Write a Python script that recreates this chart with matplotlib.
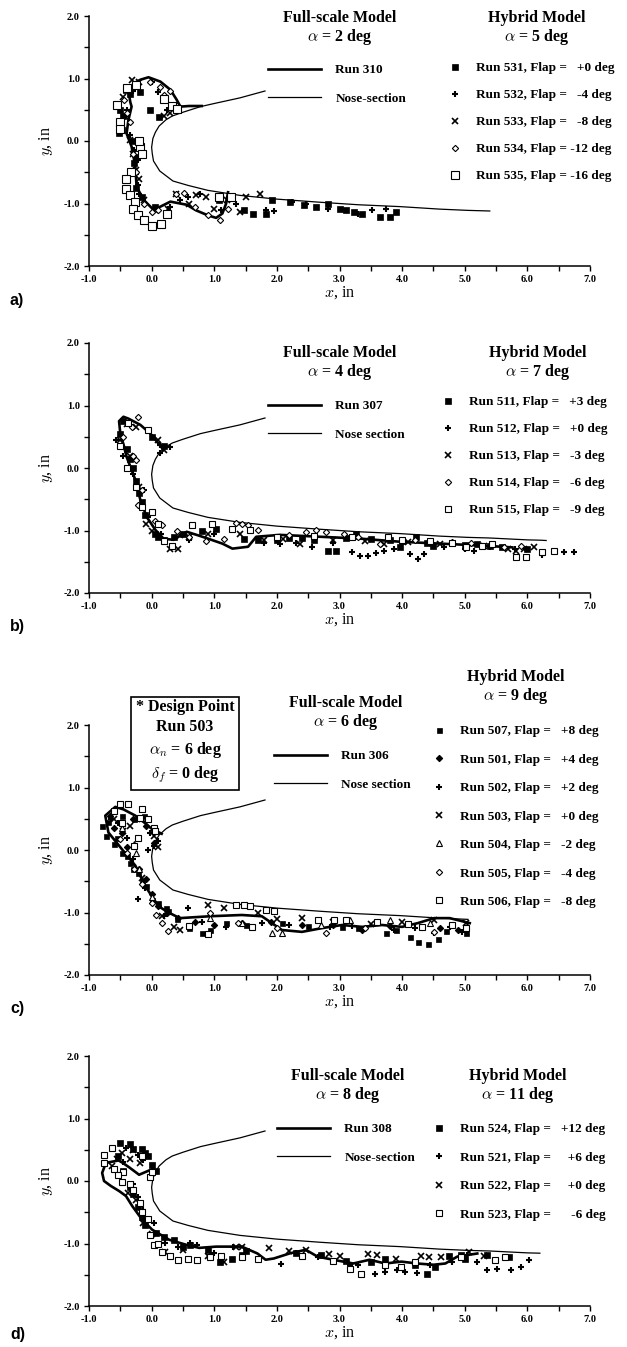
import matplotlib
matplotlib.use('Agg')
import matplotlib.pyplot as plt
from matplotlib.ticker import MultipleLocator, FormatStrFormatter
import numpy as np

plt.rcParams['font.family'] = ['Liberation Serif', 'DejaVu Serif']
plt.rcParams['font.weight'] = 'bold'
plt.rcParams['mathtext.fontset'] = 'cm'

# nose section outline (same in every panel), upper tail -> nose -> lower tail
nose = [(1.81, 0.80), (1.41, 0.69), (1.00, 0.60), (0.78, 0.55), (0.50, 0.46),
        (0.33, 0.40), (0.23, 0.34), (0.12, 0.24), (0.06, 0.14), (0.02, 0.04),
        (0.00, -0.10), (0.01, -0.20), (0.03, -0.32), (0.13, -0.48), (0.34, -0.64),
        (0.58, -0.71), (0.90, -0.79), (1.41, -0.87), (2.00, -0.93), (2.69, -0.98),
        (3.30, -1.02), (3.97, -1.05), (4.60, -1.09), (5.05, -1.11), (5.40, -1.12),
        (6.00, -1.15), (6.20, -1.155), (6.30, -1.16)]
nose_end = [5.40, 6.30, 5.05, 6.20]

# ---- panel a : full-scale alpha = 2, hybrid alpha = 5
a_run = [(0.80, 0.56), (0.60, 0.56), (0.46, 0.55), (0.40, 0.66), (0.30, 0.82), (0.14, 0.95),
         (-0.05, 1.02), (-0.18, 0.98), (-0.29, 0.92), (-0.37, 0.79), (-0.34, 0.62), (-0.32, 0.55),
         (-0.37, 0.34), (-0.40, 0.12), (-0.32, -0.09), (-0.26, -0.41), (-0.24, -0.73), (-0.13, -0.94),
         (0.03, -1.10), (0.14, -1.05), (0.30, -0.97), (0.56, -1.02), (0.71, -1.11), (0.90, -1.19),
         (1.03, -1.23), (1.13, -1.16), (1.19, -1.00), (1.22, -0.82)]
a531 = [(-0.50, 0.49), (-0.47, 0.17), (-0.41, 0.82), (-0.18, 0.79), (-0.02, 0.49), (0.12, 0.38),
        (-0.23, -0.25), (-0.52, 0.13), (-0.30, -0.50), (-0.25, -0.75), (-0.35, 0.75), (-0.45, 0.40),
        (-0.30, 0.00), (-0.28, -0.35), (-0.15, -0.90), (0.05, -1.05), (1.08, -0.95), (1.48, -1.11),
        (1.62, -1.16), (1.83, -1.16), (1.92, -0.95), (2.21, -0.98), (2.44, -1.03), (2.63, -1.06),
        (2.82, -1.00), (3.01, -1.08), (3.11, -1.11), (3.23, -1.14), (3.36, -1.16), (3.65, -1.21),
        (3.81, -1.21), (3.90, -1.13)]
a532 = [(-0.37, 0.87), (0.01, 0.95), (0.10, 0.79), (0.20, 0.65), (0.25, 0.49), (-0.28, -0.15),
        (-0.21, -0.31), (-0.25, -0.52), (-0.22, -0.70), (-0.30, 0.80), (-0.40, 0.50), (-0.35, 0.10),
        (-0.20, -0.85), (0.30, -1.05), (0.45, -0.95), (1.10, -1.10), (0.58, -0.90), (0.78, -0.84),
        (1.35, -1.00), (1.83, -1.11), (1.96, -1.12), (2.24, -0.98), (2.47, -1.00), (2.82, -1.09),
        (3.30, -1.16), (3.52, -1.11), (3.74, -1.08)]
a533 = [(-0.31, 0.97), (-0.41, 0.38), (-0.34, 0.01), (-0.25, -0.47), (-0.12, -0.95), (0.26, -1.08),
        (-0.20, 0.95), (-0.45, 0.70), (-0.30, -0.20), (-0.20, -0.60), (0.05, -1.10), (0.60, -1.00),
        (1.20, -0.95), (0.39, -0.84), (0.71, -0.87), (0.87, -0.90), (0.99, -1.08), (1.41, -1.14),
        (1.51, -0.90), (1.73, -0.84), (0.20, 0.40), (0.30, 0.45)]
a534 = [(-0.44, 0.65), (-0.02, 0.95), (0.14, 0.87), (0.20, 0.73), (0.39, 0.57), (-0.12, -1.00),
        (0.01, -1.14), (0.39, -0.84), (0.52, -0.83), (0.90, -1.19), (1.09, -1.26), (1.22, -1.08),
        (-0.35, 0.30), (-0.30, -0.20), (-0.40, 0.45), (-0.25, -0.50), (0.10, -1.10), (0.70, -1.05),
        (0.30, 0.80)]
a535 = [(-0.55, 0.58), (-0.51, 0.31), (-0.50, 0.20), (-0.40, 0.85), (-0.18, -0.09), (-0.16, -0.20),
        (-0.33, -0.49), (-0.41, -0.60), (-0.41, -0.76), (-0.35, -0.86), (-0.26, -0.97), (-0.29, -1.09),
        (-0.21, -1.18), (-0.12, -1.27), (0.01, -1.36), (0.15, -1.32), (0.24, -1.17), (0.33, 0.56),
        (0.19, 0.68), (0.40, 0.51), (1.08, -0.90), (1.27, -0.90), (-0.20, 0.00), (-0.25, 0.90)]
a_labels = ['Run 531, Flap =   +0 deg', 'Run 532, Flap =   -4 deg', 'Run 533, Flap =   -8 deg',
            'Run 534, Flap = -12 deg', 'Run 535, Flap = -16 deg']

# ---- panel b : full-scale alpha = 4, hybrid alpha = 7
b_run = [(0.19, 0.29), (0.11, 0.39), (-0.02, 0.55), (-0.18, 0.69), (-0.37, 0.79), (-0.45, 0.82),
         (-0.52, 0.75), (-0.50, 0.55), (-0.45, 0.38), (-0.40, 0.18), (-0.26, -0.19), (-0.18, -0.51),
         (-0.08, -0.78), (0.06, -0.99), (0.19, -1.13), (0.35, -1.15), (0.56, -1.02), (0.75, -1.08),
         (0.90, -1.13), (1.13, -1.21), (1.29, -1.29), (1.54, -1.26), (1.67, -1.10), (2.05, -1.07),
         (2.69, -1.10), (3.33, -1.13), (3.97, -1.18), (4.61, -1.21), (5.25, -1.24), (5.76, -1.27)]
b511 = [(-0.45, 0.75), (-0.50, 0.55), (-0.40, 0.30), (-0.30, 0.00), (-0.20, -0.40), (-0.10, -0.75),
        (0.05, -1.05), (0.20, -1.15), (0.00, 0.50), (0.20, 0.35), (-0.35, 0.15), (-0.25, -0.20),
        (-0.15, -0.55), (0.10, -1.10), (0.35, -1.10), (0.50, -1.05), (0.80, -1.00), (1.03, -0.98),
        (1.48, -1.13), (1.70, -1.15), (2.00, -1.15), (2.20, -1.12), (2.40, -1.12), (2.60, -1.15),
        (2.82, -1.32), (2.95, -1.32), (3.10, -1.12), (3.27, -1.05), (3.50, -1.14), (3.80, -1.15),
        (3.97, -1.26), (4.00, -1.17), (4.22, -1.10), (4.40, -1.20), (4.50, -1.25), (4.80, -1.20),
        (5.00, -1.23), (5.20, -1.22), (5.40, -1.25), (5.60, -1.27), (6.00, -1.30)]
b512 = [(-0.57, 0.45), (0.14, 0.37), (0.30, 0.34), (0.14, 0.24), (-0.12, -0.35), (-0.05, -0.78),
        (-0.45, 0.20), (-0.30, -0.10), (0.15, -1.05), (0.60, -1.15), (1.00, -1.05), (1.80, -1.20),
        (2.05, -1.21), (2.30, -1.20), (2.56, -1.26), (2.90, -1.20), (3.20, -1.34), (3.33, -1.41),
        (3.46, -1.41), (3.59, -1.36), (3.71, -1.32), (3.87, -1.29), (4.13, -1.38), (4.26, -1.45),
        (4.35, -1.37), (4.67, -1.26), (5.00, -1.29), (5.15, -1.32), (5.40, -1.27), (5.80, -1.30),
        (6.24, -1.39), (6.43, -1.34), (6.59, -1.34), (6.75, -1.34)]
b513 = [(-0.50, 0.45), (-0.25, 0.66), (0.10, 0.45), (0.20, 0.29), (-0.09, -0.89), (0.30, -1.29),
        (-0.40, 0.70), (-0.35, 0.20), (-0.20, -0.30), (0.00, -1.00), (0.60, -1.10), (0.90, -1.05),
        (0.42, -1.29), (0.46, -1.07), (1.41, -1.05), (1.80, -1.15), (2.10, -1.13), (2.37, -1.21),
        (2.90, -1.15), (3.40, -1.16), (3.71, -1.21), (4.10, -1.19), (4.60, -1.22), (5.30, -1.25),
        (5.69, -1.29), (5.82, -1.32), (5.95, -1.29), (6.11, -1.26)]
b514 = [(-0.21, 0.81), (-0.31, 0.66), (-0.25, 0.13), (-0.21, -0.59), (0.17, -0.91), (0.87, -1.16),
        (-0.45, 0.50), (-0.30, 0.20), (-0.15, -0.35), (0.05, -0.85), (0.40, -1.00), (0.60, -1.10),
        (1.16, -1.13), (1.35, -0.88), (1.45, -0.89), (1.54, -0.91), (1.70, -0.99), (2.20, -1.07),
        (2.47, -1.02), (2.63, -0.99), (2.79, -1.02), (3.07, -1.05), (3.30, -1.10), (3.65, -1.21),
        (4.20, -1.15), (4.80, -1.18), (5.10, -1.20), (5.63, -1.26), (5.90, -1.25)]
b515 = [(-0.37, 0.72), (-0.05, 0.61), (-0.15, -0.62), (0.01, -0.70), (0.20, -1.16), (0.33, -1.24),
        (-0.50, 0.35), (-0.40, 0.00), (-0.25, -0.30), (0.10, -0.90), (0.65, -0.91), (0.97, -0.89),
        (1.29, -0.97), (1.57, -0.99), (2.00, -1.10), (2.60, -1.08), (3.20, -1.10), (3.78, -1.10),
        (4.00, -1.15), (4.45, -1.16), (4.80, -1.20), (5.02, -1.26), (5.28, -1.24), (5.44, -1.21),
        (5.82, -1.42), (5.98, -1.42), (6.24, -1.34), (6.43, -1.32)]
b_labels = ['Run 511, Flap =   +3 deg', 'Run 512, Flap =   +0 deg', 'Run 513, Flap =   -3 deg',
            'Run 514, Flap =   -6 deg', 'Run 515, Flap =   -9 deg']

# ---- panel c : full-scale alpha = 6, hybrid alpha = 9
c_run = [(0.16, 0.26), (0.00, 0.34), (-0.13, 0.45), (-0.26, 0.55), (-0.45, 0.65), (-0.58, 0.69),
         (-0.74, 0.55), (-0.69, 0.28), (-0.48, 0.02), (-0.26, -0.25), (-0.10, -0.58), (0.11, -0.90),
         (0.27, -1.00), (0.45, -1.09), (0.93, -1.06), (1.44, -1.04), (1.76, -1.06), (2.08, -1.28),
         (2.40, -1.31), (2.72, -1.25), (3.04, -1.20), (3.36, -1.23), (3.68, -1.20), (4.00, -1.23),
         (4.25, -1.17), (4.51, -1.09), (4.76, -1.09), (5.08, -1.17)]
c507 = [(-0.80, 0.39), (-0.73, 0.23), (-0.60, 0.09), (-0.48, -0.04), (-0.35, -0.20), (-0.22, -0.37),
        (-0.09, -0.58), (0.00, -0.80), (0.23, -0.93), (0.26, -0.98), (-0.70, 0.45), (-0.55, 0.20),
        (-0.40, -0.10), (-0.30, -0.30), (-0.15, -0.50), (0.10, -0.85), (0.40, -1.10), (0.60, -1.25),
        (0.80, -1.33), (0.93, -1.28), (1.19, -1.17), (1.50, -1.20), (2.08, -1.17), (2.50, -1.22),
        (3.04, -1.23), (3.30, -1.25), (3.74, -1.33), (3.90, -1.28), (4.12, -1.39), (4.25, -1.47),
        (4.41, -1.51), (4.57, -1.43), (4.70, -1.30), (5.02, -1.33), (-0.48, 0.55), (-0.28, 0.49),
        (-0.12, 0.55)]
c501 = [(-0.67, 0.55), (-0.48, 0.28), (-0.28, 0.06), (-0.09, -0.47), (0.10, -0.90), (0.42, -1.09),
        (-0.60, 0.35), (-0.40, 0.05), (-0.20, -0.30), (0.00, -0.70), (0.25, -1.00), (0.70, -1.15),
        (1.00, -1.20), (1.44, -1.17), (1.90, -1.15), (2.40, -1.20), (2.90, -1.20), (3.36, -1.28),
        (3.80, -1.22), (4.32, -1.23), (4.60, -1.25), (4.89, -1.28), (0.04, 0.12), (-0.09, 0.39),
        (-0.30, 0.50)]
c502 = [(0.58, -0.93), (0.04, 0.06), (-0.03, 0.28), (-0.22, -0.79), (-0.65, 0.50), (-0.40, 0.20),
        (-0.30, -0.15), (-0.10, -0.60), (0.20, -1.05), (0.80, -1.15), (1.19, -1.23), (1.76, -1.17),
        (2.20, -1.20), (2.85, -1.23), (3.20, -1.22), (3.87, -1.28), (4.20, -1.25), (4.51, -1.33),
        (4.76, -1.23), (4.96, -1.31), (-0.54, 0.44), (0.10, 0.15), (-0.05, 0.00)]
c503 = [(0.90, -0.88), (1.15, -0.93), (0.45, -1.28), (0.35, -1.23), (1.70, -1.01), (2.00, -1.10),
        (2.40, -1.09), (2.90, -1.15), (3.50, -1.18), (4.00, -1.15), (4.51, -1.12), (0.04, 0.23),
        (-0.35, 0.39), (-0.16, 0.49), (-0.60, 0.50), (-0.45, 0.30), (0.10, 0.05), (-0.15, -0.45),
        (0.16, -1.06), (5.02, -1.17)]
c504 = [(-0.48, 0.36), (-0.25, -0.04), (-0.28, 0.09), (-0.20, -0.30), (0.00, -0.75), (0.93, -1.09),
        (1.44, -1.17), (1.92, -1.32), (2.08, -1.32), (2.70, -1.20), (3.17, -1.12), (3.81, -1.12),
        (4.44, -1.17)]
c505 = [(0.07, -1.04), (0.16, -1.17), (0.26, -1.29), (0.93, -1.01), (1.38, -1.17), (2.00, -1.25),
        (2.78, -1.32), (3.40, -1.25), (4.51, -1.31), (-0.28, -0.31), (-0.51, 0.17), (-0.40, -0.05),
        (-0.15, -0.55), (0.00, -0.85)]
c506 = [(-0.51, 0.74), (-0.38, 0.74), (-0.16, 0.66), (-0.19, 0.52), (0.04, 0.36), (-0.48, 0.44),
        (-0.22, 0.20), (-0.28, 0.06), (-0.60, 0.62), (-0.05, 0.50), (0.05, 0.30), (0.60, -1.22),
        (0.90, -1.34), (1.35, -0.88), (1.48, -0.88), (1.57, -0.90), (1.82, -0.96), (1.95, -0.98),
        (2.66, -1.12), (2.91, -1.12), (3.10, -1.12), (3.60, -1.15), (4.10, -1.18), (4.32, -1.23),
        (4.80, -1.20), (5.02, -1.25), (1.60, -1.23)]
c_labels = ['Run 507, Flap =   +8 deg', 'Run 501, Flap =   +4 deg', 'Run 502, Flap =   +2 deg',
            'Run 503, Flap =   +0 deg', 'Run 504, Flap =   -2 deg', 'Run 505, Flap =   -4 deg',
            'Run 506, Flap =   -8 deg']

# ---- panel d : full-scale alpha = 8, hybrid alpha = 11
d_run = [(0.01, 0.19), (-0.20, 0.10), (-0.36, 0.22), (-0.52, 0.33), (-0.73, 0.29), (-0.79, 0.13),
         (-0.76, 0.00), (-0.65, -0.08), (-0.52, -0.16), (-0.41, -0.24), (-0.31, -0.40), (-0.15, -0.62),
         (0.01, -0.78), (0.28, -0.94), (0.55, -1.02), (0.76, -1.07), (1.03, -1.05), (1.44, -1.05),
         (1.69, -1.16), (1.82, -1.26), (1.95, -1.24), (2.20, -1.16), (2.46, -1.10), (2.65, -1.21),
         (2.90, -1.26), (3.22, -1.32), (3.48, -1.26), (3.73, -1.32), (3.99, -1.29), (4.24, -1.32),
         (4.50, -1.34), (4.69, -1.32), (4.88, -1.21), (5.07, -1.18), (5.20, -1.16)]
d524 = [(-0.51, 0.61), (-0.35, 0.60), (-0.16, 0.51), (-0.06, 0.40), (0.00, 0.26), (0.07, 0.16),
        (-0.30, 0.52), (-0.10, 0.45), (-0.54, 0.40), (-0.45, 0.16), (-0.35, -0.09), (-0.30, -0.20),
        (-0.22, -0.41), (-0.16, -0.57), (-0.10, -0.70), (0.07, -0.83), (0.20, -0.90), (0.35, -0.94),
        (0.50, -1.05), (0.61, -1.02), (0.90, -1.10), (1.09, -1.29), (1.28, -1.24), (1.44, -1.18),
        (1.50, -1.12), (2.30, -1.15), (2.71, -1.18), (3.10, -1.28), (3.50, -1.30), (3.73, -1.24),
        (4.20, -1.35), (4.40, -1.48), (4.53, -1.37), (4.75, -1.20), (4.94, -1.18), (5.00, -1.25),
        (5.36, -1.18), (5.71, -1.21)]
d521 = [(-0.41, 0.53), (-0.22, 0.42), (-0.13, 0.34), (-0.45, 0.30), (-0.30, -0.05), (-0.22, -0.25),
        (-0.13, -0.46), (-0.05, -0.60), (0.03, -0.67), (0.22, -0.99), (0.42, -1.05), (0.61, -0.99),
        (0.73, -1.02), (1.00, -1.15), (1.30, -1.05), (2.07, -1.32), (2.30, -1.15), (2.65, -1.21),
        (2.90, -1.30), (3.16, -1.34), (3.30, -1.35), (3.57, -1.48), (3.73, -1.45), (3.92, -1.42),
        (4.05, -1.45), (4.24, -1.47), (4.45, -1.35), (4.80, -1.30), (5.04, -1.18), (5.20, -1.29),
        (5.36, -1.42), (5.52, -1.40), (5.74, -1.42), (5.90, -1.37), (6.03, -1.26)]
d522 = [(-0.64, 0.24), (-0.48, 0.45), (-0.29, 0.50), (-0.19, 0.29), (-0.55, 0.35), (-0.35, 0.35),
        (-0.38, -0.19), (-0.25, -0.30), (-0.13, -0.67), (0.00, -0.85), (0.22, -1.13), (0.50, -1.10),
        (0.90, -1.20), (1.15, -1.29), (1.35, -1.05), (1.44, -1.05), (1.88, -1.07), (2.20, -1.12),
        (2.46, -1.10), (2.84, -1.16), (3.00, -1.20), (3.45, -1.16), (3.60, -1.18), (3.90, -1.25),
        (4.30, -1.20), (4.43, -1.21), (4.62, -1.21), (5.07, -1.14), (5.30, -1.20)]
d523 = [(-0.76, 0.42), (-0.64, 0.53), (-0.76, 0.29), (-0.60, 0.20), (-0.45, 0.15), (-0.54, 0.10),
        (-0.48, -0.02), (-0.35, -0.05), (-0.29, -0.14), (-0.19, -0.35), (-0.16, -0.49), (-0.05, -0.60),
        (-0.03, -0.86), (0.03, -1.02), (0.10, -1.00), (0.16, -1.13), (0.30, -1.20), (0.42, -1.26),
        (0.58, -1.24), (0.73, -1.26), (0.93, -1.21), (1.10, -1.20), (1.44, -1.21), (1.70, -1.25),
        (2.40, -1.20), (2.90, -1.28), (-0.03, 0.07), (0.00, 0.15), (-0.16, 0.40), (3.16, -1.40),
        (3.35, -1.48), (3.73, -1.34), (3.99, -1.37), (4.20, -1.30), (4.94, -1.21), (5.49, -1.26),
        (5.65, -1.21)]
d_labels = ['Run 524, Flap =   +12 deg', 'Run 521, Flap =     +6 deg', 'Run 522, Flap =     +0 deg',
            'Run 523, Flap =      -6 deg']

# marker looks
fsq = dict(marker='s', ms=4.2, mfc='black', mec='black', mew=0.5)
fsq_s = dict(marker='s', ms=3.6, mfc='black', mec='black', mew=0.5)
plus = dict(marker='+', ms=5, mec='black', mew=1.5)
cross = dict(marker='x', ms=4, mec='black', mew=1.2)
odia = dict(marker='D', ms=3.2, mfc='white', mec='black', mew=0.8)
fdia = dict(marker='D', ms=3.2, mfc='black', mec='black', mew=0.8)
osq_l = dict(marker='s', ms=5.5, mfc='white', mec='black', mew=0.8)
osq = dict(marker='s', ms=4.2, mfc='white', mec='black', mew=0.8)
otri = dict(marker='^', ms=4.2, mfc='white', mec='black', mew=0.8)

W, H = 627, 1347
fig = plt.figure(figsize=(W / 100, H / 100), dpi=100)


def fx(px):
    return px / W


def fy(py):
    return 1 - py / H


panels = [
    dict(tag='a)', bottom=266, run=a_run, run_lab='Run 310', nose_lab='Nose-section',
         series=[a531, a532, a533, a534, a535], styles=[fsq, plus, cross, odia, osq_l],
         labels=a_labels, fs_alpha=2, hy_alpha=5, sp=1.12,
         fs_t=(340, 18), hy_t=(537, 18), line_leg=(268, 71), mark_leg=(455, 69), tag_y=300),
    dict(tag='b)', bottom=593, run=b_run, run_lab='Run 307', nose_lab='Nose section',
         series=[b511, b512, b513, b514, b515], styles=[fsq, plus, cross, odia, osq],
         labels=b_labels, fs_alpha=4, hy_alpha=7, sp=1.12,
         fs_t=(340, 353), hy_t=(538, 353), line_leg=(268, 407), mark_leg=(448, 403), tag_y=627),
    dict(tag='c)', bottom=975, run=c_run, run_lab='Run 306', nose_lab='Nose section',
         series=[c507, c501, c502, c503, c504, c505, c506],
         styles=[fsq_s, fdia, plus, cross, otri, odia, osq],
         labels=c_labels, fs_alpha=6, hy_alpha=9, sp=1.23,
         fs_t=(346, 703), hy_t=(516, 677), line_leg=(274, 757), mark_leg=(439, 732), tag_y=1008),
    dict(tag='d)', bottom=1306, run=d_run, run_lab='Run 308', nose_lab='Nose-section',
         series=[d524, d521, d522, d523], styles=[fsq, plus, cross, osq],
         labels=d_labels, fs_alpha=8, hy_alpha=11, sp=1.23,
         fs_t=(348, 1076), hy_t=(518, 1076), line_leg=(277, 1130), mark_leg=(439, 1130), tag_y=1335),
]

leg_font = dict(family=['Liberation Serif'], weight='bold', size=9.5)

for i, p in enumerate(panels):
    ax = fig.add_axes([fx(89), fy(p['bottom']), fx(501), 250 / H])
    ax.set_xlim(-1, 7)
    ax.set_ylim(-2, 2)
    for s in ['top', 'right']:
        ax.spines[s].set_visible(False)
    for s in ['left', 'bottom']:
        ax.spines[s].set_linewidth(1.1)
    ax.xaxis.set_major_locator(MultipleLocator(1))
    ax.xaxis.set_minor_locator(MultipleLocator(0.5))
    ax.yaxis.set_major_locator(MultipleLocator(1))
    ax.yaxis.set_minor_locator(MultipleLocator(0.5))
    ax.xaxis.set_major_formatter(FormatStrFormatter('%.1f'))
    ax.yaxis.set_major_formatter(FormatStrFormatter('%.1f'))
    ax.tick_params(which='both', direction='out', length=3.5, width=1.0, labelsize=7.5, pad=3)
    ax.set_xlabel(r'$x$, in', fontsize=11.5, labelpad=0)
    ax.set_ylabel(r'$y$, in', fontsize=11.5, labelpad=6)

    nx = np.array([q[0] for q in nose])
    ny = np.array([q[1] for q in nose])
    keep = ~((ny < 0) & (nx > nose_end[i]))
    nose_line, = ax.plot(nx[keep], ny[keep], color='black', lw=0.9, label=p['nose_lab'])

    rx = [q[0] for q in p['run']]
    ry = [q[1] for q in p['run']]
    run_line, = ax.plot(rx, ry, color='black', lw=1.9, solid_joinstyle='round',
                        label=p['run_lab'])

    handles = []
    for data, st, lab in zip(p['series'], p['styles'], p['labels']):
        h, = ax.plot([q[0] for q in data], [q[1] for q in data], ls='none',
                     label=lab, clip_on=False, **st)
        handles.append(h)

    leg1 = ax.legend(handles=[run_line, nose_line], loc='upper left',
                     bbox_to_anchor=(fx(p['line_leg'][0]), fy(p['line_leg'][1] - 7)),
                     bbox_transform=fig.transFigure, frameon=False, prop=leg_font,
                     handlelength=4.0, handletextpad=1.1, labelspacing=1.23,
                     borderpad=0, borderaxespad=0)
    ax.add_artist(leg1)
    ax.legend(handles=handles, loc='upper left',
              bbox_to_anchor=(fx(p['mark_leg'][0] - 5), fy(p['mark_leg'][1] - 7)),
              bbox_transform=fig.transFigure, frameon=False, prop=leg_font,
              handlelength=0.8, handletextpad=1.2, labelspacing=p['sp'],
              borderpad=0, borderaxespad=0)

    tx, ty = p['fs_t']
    fig.text(fx(tx), fy(ty), 'Full-scale Model', ha='center', va='center', fontsize=11.5)
    fig.text(fx(tx), fy(ty + 19), r'$\alpha$ = %d deg' % p['fs_alpha'], ha='center',
             va='center', fontsize=11.5)
    tx, ty = p['hy_t']
    fig.text(fx(tx), fy(ty), 'Hybrid Model', ha='center', va='center', fontsize=11.5)
    fig.text(fx(tx), fy(ty + 19), r'$\alpha$ = %d deg' % p['hy_alpha'], ha='center',
             va='center', fontsize=11.5)

    fig.text(fx(10), fy(p['tag_y']), p['tag'], ha='left', va='center', fontsize=11.5,
             family=['Liberation Sans', 'DejaVu Sans'], weight='bold')

# design point box in panel c
fig.text(fx(185), fy(742), '* Design Point\nRun 503\n' + r'$\alpha_n$ = 6 deg' + '\n' +
         r'$\delta_f$ = 0 deg', ha='center', va='center', fontsize=11.5, linespacing=1.35,
         bbox=dict(boxstyle='square,pad=0.3', fc='white', ec='black', lw=1.2))

fig.savefig('out.png', dpi=100)
